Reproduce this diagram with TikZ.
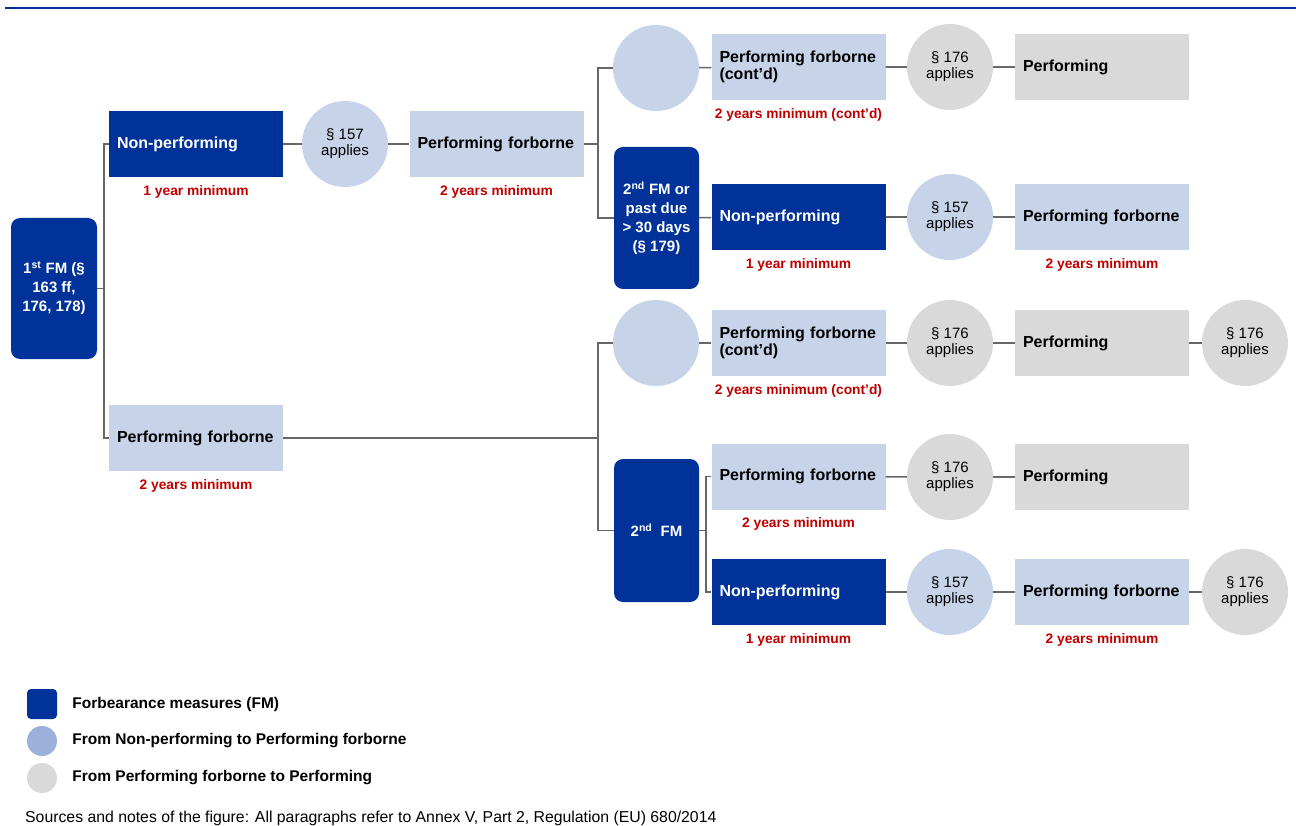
\documentclass[tikz,border=0pt]{standalone}
\usepackage{fontspec}
\setmainfont{Liberation Sans}
\usetikzlibrary{positioning}

\definecolor{ecbblue}{HTML}{003299}
\definecolor{pfblue}{HTML}{C6D3E8}
\definecolor{legblue}{HTML}{9BB0DA}
\definecolor{perfgrey}{HTML}{D9D9D9}
\definecolor{linkgrey}{HTML}{666666}
\definecolor{minred}{HTML}{C00000}

\begin{document}
\begin{tikzpicture}[x=1pt,y=-1pt,
    box/.style={rectangle,minimum height=66pt,text width=158pt,inner xsep=8pt,inner ysep=0pt,
      align=left,font=\bfseries\fontsize{16}{16.5}\selectfont},
    npbox/.style={box,fill=ecbblue,text=white},
    pfbox/.style={box,fill=pfblue},
    perfbox/.style={box,fill=perfgrey},
    fmbox/.style={rectangle,rounded corners=9pt,fill=ecbblue,text=white,inner sep=0pt,
      align=center,font=\bfseries\fontsize{15}{19}\selectfont},
    rule/.style={circle,minimum size=86pt,inner sep=0pt,align=center,
      font=\fontsize{15}{16}\selectfont},
    rule157/.style={rule,fill=pfblue},
    rule176/.style={rule,fill=perfgrey},
    minlabel/.style={text=minred,inner sep=2pt,font=\bfseries\fontsize{13.8}{15}\selectfont},
    legtext/.style={inner sep=0pt,font=\bfseries\fontsize{15.5}{17}\selectfont},
    link/.style={draw=linkgrey,line width=1.6pt}]

    \useasboundingbox (0,0) rectangle (1296,826);
    \draw[ecbblue,line width=2.5pt] (5,8) -- (1296,8);

    % first measure
    \node(fm1)[fmbox,minimum width=86pt,minimum height=141pt] at (54,288.5)
      {1\textsuperscript{st} FM (\S\\163 ff,\\176, 178)};
    \coordinate(split1) at (104,288.5);

    \node(np_a)[npbox] at (196,144){Non-performing};
    \node(np_a_min)[minlabel,below=6pt of np_a]{1 year minimum};
    \node(c157_a)[rule157] at (345,144){\S\ 157\\applies};
    \node(pf_a)[pfbox] at (496.5,144){Performing forborne};
    \node(pf_a_min)[minlabel,below=6pt of pf_a]{2 years minimum};
    \coordinate(split2) at (598,144);

    \node(pf_low)[pfbox] at (196,438){Performing forborne};
    \node(pf_low_min)[minlabel,below=6pt of pf_low]{2 years minimum};
    \coordinate(split3) at (598,438);

    % upper branch
    \node(e_top)[rule157] at (656,68){};
    \node(pfc_a)[pfbox] at (798.5,67){Performing forborne\\(cont'd)};
    \node(pfc_a_min)[minlabel,below=6pt of pfc_a]{2 years minimum (cont'd)};
    \node(c176_a)[rule176] at (950,67){\S\ 176\\applies};
    \node(perf_a)[perfbox] at (1102,67){Performing};

    \node(fm2a)[fmbox,minimum width=85pt,minimum height=142pt] at (656.5,218)
      {2\textsuperscript{nd} FM or\\past due\\> 30 days\\(\S\ 179)};
    \node(np_b)[npbox] at (798.5,217){Non-performing};
    \node(np_b_min)[minlabel,below=6pt of np_b]{1 year minimum};
    \node(c157_b)[rule157] at (950,217){\S\ 157\\applies};
    \node(pf_b)[pfbox] at (1102,217){Performing forborne};
    \node(pf_b_min)[minlabel,below=6pt of pf_b]{2 years minimum};

    % lower branch
    \node(e_mid)[rule157] at (656,343){};
    \node(pfc_b)[pfbox] at (798.5,343){Performing forborne\\(cont'd)};
    \node(pfc_b_min)[minlabel,below=6pt of pfc_b]{2 years minimum (cont'd)};
    \node(c176_b)[rule176] at (950,343){\S\ 176\\applies};
    \node(perf_b)[perfbox] at (1102,343){Performing};
    \node(c176_c)[rule176] at (1245,343){\S\ 176\\applies};

    \node(fm2b)[fmbox,minimum width=85pt,minimum height=143pt] at (656.5,530.5)
      {2\textsuperscript{nd}\ \ FM};
    \coordinate(split4) at (706,530.5);
    \node(pf_c)[pfbox] at (798.5,476.5){Performing forborne};
    \node(pf_c_min)[minlabel,below=6pt of pf_c]{2 years minimum};
    \node(c176_d)[rule176] at (950,477){\S\ 176\\applies};
    \node(perf_c)[perfbox] at (1102,477){Performing};

    \node(np_c)[npbox] at (798.5,592){Non-performing};
    \node(np_c_min)[minlabel,below=6pt of np_c]{1 year minimum};
    \node(c157_c)[rule157] at (950,592){\S\ 157\\applies};
    \node(pf_d)[pfbox] at (1102,592){Performing forborne};
    \node(pf_d_min)[minlabel,below=6pt of pf_d]{2 years minimum};
    \node(c176_e)[rule176] at (1245,592){\S\ 176\\applies};

    % connectors
    \draw[link] (fm1) -- (split1);
    \draw[link] (np_a.west) -| (split1) |- (pf_low.west);
    \draw[link] (np_a) -- (c157_a) -- (pf_a) -- (split2);
    \draw[link] (e_top.west) -| (split2) |- (fm2a.west);
    \draw[link] (e_top) -- (pfc_a) -- (c176_a) -- (perf_a);
    \draw[link] (fm2a) -- (np_b) -- (c157_b) -- (pf_b);
    \draw[link] (pf_low) -- (split3);
    \draw[link] (e_mid.west) -| (split3) |- (fm2b.west);
    \draw[link] (e_mid) -- (pfc_b) -- (c176_b) -- (perf_b) -- (c176_c);
    \draw[link] (fm2b) -- (split4);
    \draw[link] (pf_c.west) -| (split4) |- (np_c.west);
    \draw[link] (pf_c) -- (c176_d) -- (perf_c);
    \draw[link] (np_c) -- (c157_c) -- (pf_d) -- (c176_e);

    % legend
    \node(leg_fm)[rectangle,rounded corners=4pt,fill=ecbblue,minimum size=30pt,inner sep=0pt] at (42,704){};
    \node(leg_fm_t)[legtext,right=15pt of leg_fm]{Forbearance measures (FM)};
    \node(leg_np)[circle,fill=legblue,minimum size=30pt,inner sep=0pt] at (42,741){};
    \node(leg_np_t)[legtext,right=15pt of leg_np]{From Non-performing to Performing forborne};
    \node(leg_pf)[circle,fill=perfgrey,minimum size=30pt,inner sep=0pt] at (42,778){};
    \node(leg_pf_t)[legtext,right=15pt of leg_pf]{From Performing forborne to Performing};

    \node(source)[anchor=west,inner sep=0pt,font=\fontsize{15.8}{17}\selectfont] at (25,818)
      {Sources and notes of the figure: All paragraphs refer to Annex V, Part 2, Regulation (EU) 680/2014};
  \end{tikzpicture}
\end{document}
